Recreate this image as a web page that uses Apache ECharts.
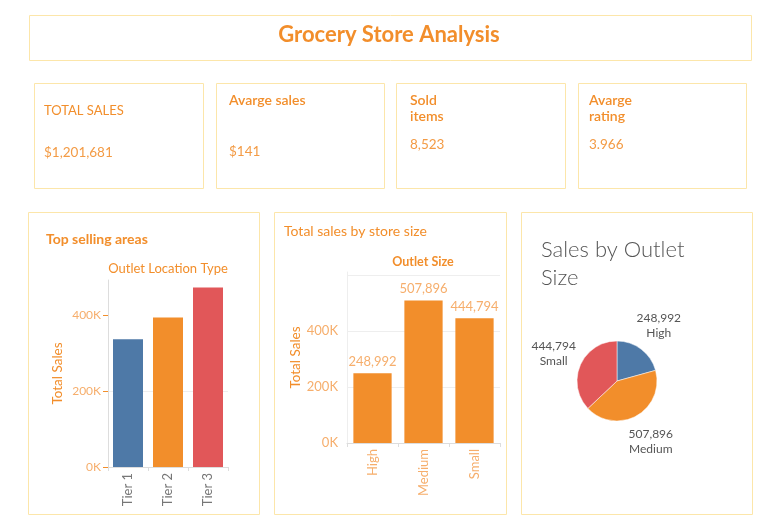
<!DOCTYPE html>
<html>
<head>
<meta charset="utf-8">
<script src="https://cdn.jsdelivr.net/npm/echarts@6/dist/echarts.min.js"></script>
<style>
  html, body { margin: 0; padding: 0; background: #fff; }
  #main { width: 772px; height: 520px; }
</style>
</head>
<body>
<div id="main"></div>
<script>
// KPI cards
const kpiLabels = ['TOTAL SALES', 'Avarge sales', 'Sold\nitems', 'Avarge\nrating'];
const kpiValues = ['$1,201,681', '$141', '8,523', '3.966'];

// Top selling areas
const tiers = ['Tier 1', 'Tier 2', 'Tier 3'];
const tierSales = [336397, 393150, 472133];

// Outlet size
const sizes = ['High', 'Medium', 'Small'];
const sizeSales = [248992, 507896, 444794];

const yTickValues = [0, 200000, 400000];

// styles
const FONT = 'Lato, "Noto Sans", sans-serif';
const BORDER = '#fce6aa';
const ORANGE = '#f28e2b';
const ORANGE_LIGHT = '#f6ae6c';
const tierColors = ['#4e79a7', '#f28e2b', '#e15759'];
const sizeColors = ['#4e79a7', '#f28e2b', '#e15759'];

const chart = echarts.init(document.getElementById('main'));

const kFmt = v => (v / 1000) + 'K';
const commas = v => echarts.format.addCommas(v);

// layout of boxes
const boxes = [
  [29, 15, 722, 45],
  [34, 83, 169, 105], [216, 83, 168, 105], [396, 83, 169, 105], [578, 83, 168, 105],
  [28, 212, 231, 302], [274, 212, 232, 302], [521, 212, 231, 302]
];
const kpiX = [44, 229, 410, 589];
const kpiLabelY = [103, 92, 92, 92];
const kpiValueY = [146, 145, 138, 138];

const graphic = [];
boxes.forEach(b => {
  graphic.push({
    type: 'rect', silent: true, z: -1,
    shape: { x: b[0] + 0.5, y: b[1] + 0.5, width: b[2], height: b[3] },
    style: { fill: '#fff', stroke: BORDER, lineWidth: 1 }
  });
});
kpiLabels.forEach((t, i) => {
  graphic.push({
    type: 'text', silent: true,
    style: {
      text: t, x: kpiX[i], y: kpiLabelY[i], fill: ORANGE,
      font: (i === 0 ? 'normal 13px ' : '600 14px ') + FONT, lineHeight: 16, verticalAlign: 'top'
    }
  });
  graphic.push({
    type: 'text', silent: true,
    style: {
      text: kpiValues[i], x: kpiX[i], y: kpiValueY[i], fill: '#f39b45',
      font: 'normal 13.5px ' + FONT, verticalAlign: 'top'
    }
  });
});

const option = {
  backgroundColor: '#fff',
  textStyle: { fontFamily: FONT },
  animation: false,
  graphic: graphic,
  title: [
    { text: 'Grocery Store Analysis', left: 389, top: 24, padding: 0, textAlign: 'center',
      textStyle: { color: ORANGE, fontSize: 22, fontWeight: 'bold', fontFamily: FONT } },
    { text: 'Top selling areas', left: 46, top: 232, padding: 0,
      textStyle: { color: ORANGE, fontSize: 14, fontWeight: 'bold', fontFamily: FONT } },
    { text: 'Outlet Location Type', left: 168, top: 262, padding: 0, textAlign: 'center',
      textStyle: { color: ORANGE, fontSize: 13, fontWeight: 'normal', fontFamily: FONT } },
    { text: 'Total sales by store size', left: 284, top: 224, padding: 0,
      textStyle: { color: ORANGE, fontSize: 14, fontWeight: 'normal', fontFamily: FONT } },
    { text: 'Outlet Size', left: 423, top: 255, padding: 0, textAlign: 'center',
      textStyle: { color: ORANGE, fontSize: 12.5, fontWeight: 'bold', fontFamily: FONT } },
    { text: 'Sales by Outlet\nSize', left: 541, top: 236, padding: 0,
      textStyle: { color: '#555', fontSize: 22, fontWeight: 300, lineHeight: 28, fontFamily: FONT } }
  ],
  grid: [
    { left: 108, right: 544, top: 280, bottom: 53 },
    { left: 347, right: 272, top: 272, bottom: 77 }
  ],
  xAxis: [
    {
      type: 'category', gridIndex: 0, data: tiers,
      axisLine: { lineStyle: { color: '#ddd' } },
      axisTick: { show: true, length: 4, lineStyle: { color: '#ddd' } },
      axisLabel: { rotate: 90, color: '#777', fontSize: 13, margin: 6 }
    },
    {
      type: 'category', gridIndex: 1, data: sizes,
      axisLine: { lineStyle: { color: '#ddd' } },
      axisTick: { show: true, length: 4, lineStyle: { color: '#ddd' } },
      axisLabel: { rotate: 90, color: ORANGE_LIGHT, fontSize: 13, margin: 6 }
    }
  ],
  yAxis: [
    {
      type: 'value', gridIndex: 0, min: 0, max: 492000, interval: 200000,
      name: 'Total Sales', nameLocation: 'middle', nameGap: 43,
      nameTextStyle: { color: ORANGE, fontSize: 13.5 },
      axisLine: { show: true, lineStyle: { color: '#ddd' } },
      axisTick: { show: true, length: 5, customValues: yTickValues, lineStyle: { color: ORANGE } },
      axisLabel: { color: ORANGE_LIGHT, fontSize: 12, margin: 7, customValues: yTickValues, formatter: kFmt },
      splitLine: { show: true, showMinLine: false, showMaxLine: false, lineStyle: { color: '#eee' } }
    },
    {
      type: 'value', gridIndex: 1, min: 0, max: 610000, interval: 200000,
      name: 'Total Sales', nameLocation: 'middle', nameGap: 44,
      nameTextStyle: { color: ORANGE, fontSize: 13.5 },
      axisLine: { show: true, lineStyle: { color: '#eee' } },
      axisTick: { show: false },
      axisLabel: { color: ORANGE_LIGHT, fontSize: 13, margin: 9, customValues: yTickValues, formatter: kFmt },
      splitLine: { show: true, showMinLine: false, showMaxLine: false, lineStyle: { color: '#eee' } }
    }
  ],
  series: [
    {
      type: 'bar', xAxisIndex: 0, yAxisIndex: 0, barCategoryGap: '25%',
      data: tierSales.map((v, i) => ({ value: v, itemStyle: { color: tierColors[i] } }))
    },
    {
      type: 'bar', xAxisIndex: 1, yAxisIndex: 1, barCategoryGap: '25%',
      itemStyle: { color: ORANGE },
      label: { show: true, position: 'top', color: ORANGE_LIGHT, fontSize: 13, distance: 5,
        formatter: p => commas(p.value) },
      data: sizeSales
    },
    {
      type: 'pie', center: [617, 381], radius: 40, startAngle: 90, clockwise: true,
      label: { show: false }, labelLine: { show: false },
      itemStyle: { borderColor: '#fff', borderWidth: 0.5 },
      data: sizes.map((s, i) => ({ name: s, value: sizeSales[i], itemStyle: { color: sizeColors[i] } }))
    },
    {
      // transparent ring only carries the outside labels
      type: 'pie', center: [617, 381], radius: [58, 74], startAngle: 90, clockwise: true,
      silent: true, emphasis: { disabled: true },
      itemStyle: { color: 'transparent' },
      label: { show: true, position: 'inside', color: '#555', fontSize: 12, lineHeight: 15,
        formatter: p => commas(p.value) + '\n' + p.name },
      labelLine: { show: false },
      data: sizes.map((s, i) => ({ name: s, value: sizeSales[i] }))
    }
  ]
};

chart.setOption(option);
</script>
</body>
</html>
